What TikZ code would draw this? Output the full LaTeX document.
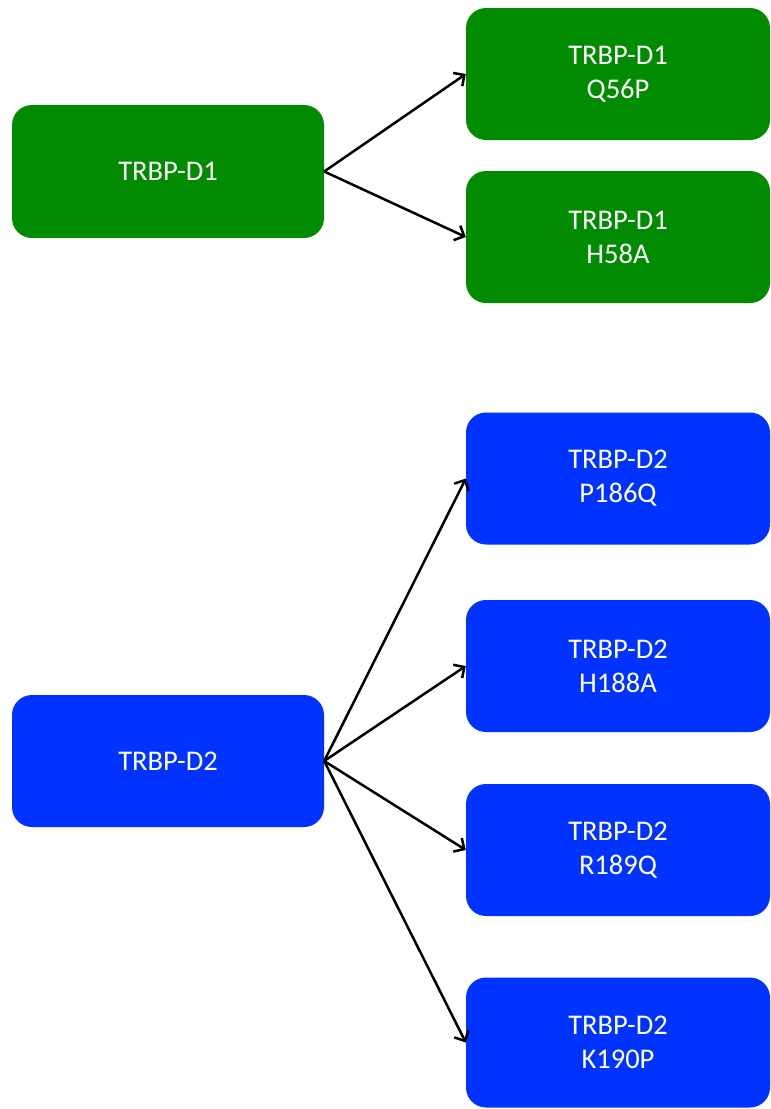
\documentclass[tikz,border=0pt]{standalone}
\usepackage{fontspec}
\setmainfont{Carlito}
\usetikzlibrary{positioning,arrows.meta}
\definecolor{domgreen}{RGB}{0,139,0}
\definecolor{domblue}{RGB}{0,51,255}

\begin{document}
\begin{tikzpicture}[x=1pt, y=-1pt, every node/.style={rectangle, rounded corners=20pt, text=white, align=center, minimum width=304pt, minimum height=132pt, inner sep=0pt, font=\fontsize{28.5}{34}\selectfont}, greenbox/.style={fill=domgreen}, bluebox/.style={fill=domblue}, arr/.style={-{Straight Barb[length=8pt,width=16pt]}, line width=2.5pt}]
\useasboundingbox (0,0) rectangle (771,1109);
\node[greenbox, minimum width=312pt, minimum height=133pt] (d1) at (168,171.5) {TRBP-D1};
\node[greenbox] (q56p) at (618,74) {TRBP-D1\\Q56P};
\node[greenbox] (h58a) at (618,237) {TRBP-D1\\H58A};

\node[bluebox, minimum width=312pt] (d2) at (168,761) {TRBP-D2};
\node[bluebox] (p186q) at (618,478.5) {TRBP-D2\\P186Q};
\node[bluebox] (h188a) at (618,666) {TRBP-D2\\H188A};
\node[bluebox] (r189q) at (618,850) {TRBP-D2\\R189Q};
\node[bluebox, minimum height=130pt] (k190p) at (618,1042.5) {TRBP-D2\\K190P};

\draw[arr] (d1.east) -- (q56p.west);
\draw[arr] (d1.east) -- (h58a.west);
\draw[arr] (d2.east) -- (p186q.west);
\draw[arr] (d2.east) -- (h188a.west);
\draw[arr] (d2.east) -- (r189q.west);
\draw[arr] (d2.east) -- (k190p.west);
\end{tikzpicture}
\end{document}
